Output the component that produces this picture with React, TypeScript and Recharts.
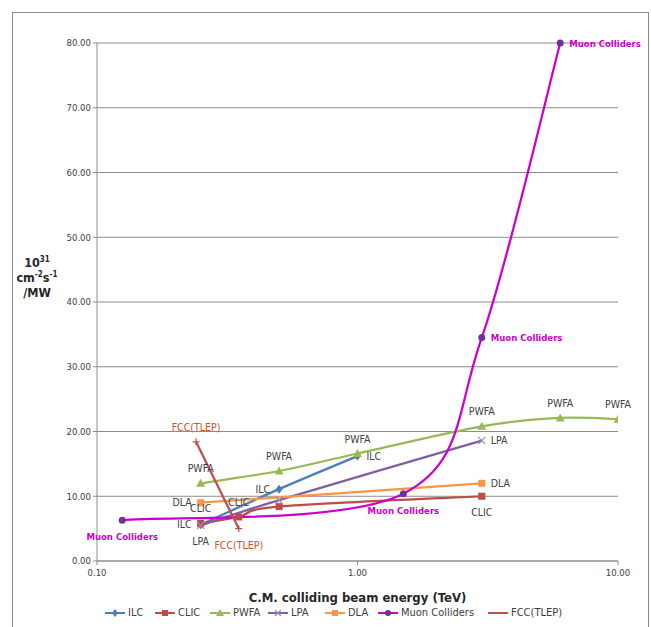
import React from 'react';
import { LineChart, Line, XAxis, YAxis, CartesianGrid } from 'recharts';

// energies in TeV, luminosity per wall-plug power in 1e31 cm^-2 s^-1 / MW
const ilcEnergy = [0.25, 0.5, 1.0];
const ilcLumi = [5.6, 11.1, 16.2];
const ilcLabels = ['ILC', 'ILC', 'ILC'];

const clicEnergy = [0.25, 0.35, 0.5, 3.0];
const clicLumi = [5.8, 6.8, 8.4, 10.0];
const clicLabels = ['CLIC', 'CLIC', '', 'CLIC'];

const pwfaEnergy = [0.25, 0.5, 1.0, 3.0, 6.0, 10.0];
const pwfaLumi = [12.0, 13.9, 16.6, 20.8, 22.1, 21.9];
const pwfaLabels = ['PWFA', 'PWFA', 'PWFA', 'PWFA', 'PWFA', 'PWFA'];

const lpaEnergy = [0.25, 0.5, 3.0];
const lpaLumi = [5.5, 9.4, 18.6];
const lpaLabels = ['LPA', '', 'LPA'];

const dlaEnergy = [0.25, 3.0];
const dlaLumi = [9.0, 12.0];
const dlaLabels = ['DLA', 'DLA'];

const muonEnergy = [0.125, 1.5, 3.0, 6.0];
const muonLumi = [6.3, 10.4, 34.5, 80.0];
const muonLabels = ['Muon Colliders', 'Muon Colliders', 'Muon Colliders', 'Muon Colliders'];

const fccEnergy = [0.24, 0.35];
const fccLumi = [18.4, 5.0];
const fccLabels = ['FCC(TLEP)', 'FCC(TLEP)'];

const xTicks = [0.1, 1, 10];
const yTicks = [0, 10, 20, 30, 40, 50, 60, 70, 80];

const toPoints = (xs: number[], ys: number[]) => xs.map((x, i) => ({ x, y: ys[i] }));

// Excel-style smoothed line (uniform Catmull-Rom as cubic Beziers)
const excelSmooth = (context: any) => {
  let pts: number[][] = [];
  return {
    areaStart() {},
    areaEnd() {},
    lineStart() { pts = []; },
    point(x: number, y: number) { pts.push([+x, +y]); },
    lineEnd() {
      if (!pts.length) return;
      context.moveTo(pts[0][0], pts[0][1]);
      for (let i = 0; i < pts.length - 1; i++) {
        const p0 = pts[i - 1] || pts[i];
        const p1 = pts[i];
        const p2 = pts[i + 1];
        const p3 = pts[i + 2] || pts[i + 1];
        context.bezierCurveTo(
          p1[0] + (p2[0] - p0[0]) / 6, p1[1] + (p2[1] - p0[1]) / 6,
          p2[0] - (p3[0] - p1[0]) / 6, p2[1] - (p3[1] - p1[1]) / 6,
          p2[0], p2[1],
        );
      }
    },
  };
};

type Place = 'top' | 'bottom' | 'left' | 'right';
type MarkerKind = 'diamond' | 'square' | 'triangle' | 'cross' | 'circle' | 'plus';

const series = [
  { name: 'ILC', data: toPoints(ilcEnergy, ilcLumi), labels: ilcLabels, places: ['left', 'left', 'right'] as Place[], color: '#4a7ebb', markerColor: '#4a7ebb', marker: 'diamond' as MarkerKind, labelColor: '#404040', legendW: 50 },
  { name: 'CLIC', data: toPoints(clicEnergy, clicLumi), labels: clicLabels, places: ['top', 'top', 'top', 'bottom'] as Place[], color: '#be4b48', markerColor: '#be4b48', marker: 'square' as MarkerKind, labelColor: '#404040', legendW: 55 },
  { name: 'PWFA', data: toPoints(pwfaEnergy, pwfaLumi), labels: pwfaLabels, places: ['top', 'top', 'top', 'top', 'top', 'top'] as Place[], color: '#98b954', markerColor: '#98b954', marker: 'triangle' as MarkerKind, labelColor: '#404040', legendW: 58 },
  { name: 'LPA', data: toPoints(lpaEnergy, lpaLumi), labels: lpaLabels, places: ['bottom', 'top', 'right'] as Place[], color: '#7d60a0', markerColor: '#9d88bb', marker: 'cross' as MarkerKind, labelColor: '#404040', legendW: 57 },
  { name: 'DLA', data: toPoints(dlaEnergy, dlaLumi), labels: dlaLabels, places: ['left', 'right'] as Place[], color: '#f79646', markerColor: '#f79646', marker: 'square' as MarkerKind, labelColor: '#404040', legendW: 53 },
  { name: 'Muon Colliders', data: toPoints(muonEnergy, muonLumi), labels: muonLabels, places: ['bottom', 'bottom', 'right', 'right'] as Place[], color: '#cc00cc', markerColor: '#7030a0', marker: 'circle' as MarkerKind, labelColor: '#cc00cc', legendW: 110 },
  { name: 'FCC(TLEP)', data: toPoints(fccEnergy, fccLumi), labels: fccLabels, places: ['top', 'bottom'] as Place[], color: '#c0504d', markerColor: '#c0504d', marker: 'plus' as MarkerKind, labelColor: '#d0502a', legendW: 80 },
];

const FONT = '"Liberation Sans Narrow", "DejaVu Sans Condensed", "Liberation Sans", sans-serif';

const Marker = ({ kind, cx, cy, color, size = 7 }: { kind: MarkerKind; cx: number; cy: number; color: string; size?: number }) => {
  const r = size / 2;
  switch (kind) {
    case 'diamond':
      return <path d={`M${cx},${cy - r - 1}L${cx + r},${cy}L${cx},${cy + r + 1}L${cx - r},${cy}Z`} fill={color} />;
    case 'square':
      return <rect x={cx - r} y={cy - r} width={size} height={size} fill={color} />;
    case 'triangle':
      return <path d={`M${cx},${cy - r - 1}L${cx + r + 1},${cy + r}L${cx - r - 1},${cy + r}Z`} fill={color} />;
    case 'cross':
      return <path d={`M${cx - r},${cy - r}L${cx + r},${cy + r}M${cx - r},${cy + r}L${cx + r},${cy - r}`} stroke={color} strokeWidth={1.2} />;
    case 'circle':
      return <circle cx={cx} cy={cy} r={r} fill={color} />;
    case 'plus':
      return <path d={`M${cx - r},${cy}L${cx + r},${cy}M${cx},${cy - r}L${cx},${cy + r}`} stroke={color} strokeWidth={1.2} />;
  }
  return null;
};

const makeLabel = (labels: string[], places: Place[], color: string, bold: boolean) => (props: any) => {
  const { x, y, index } = props;
  const text = labels[index];
  if (!text) return null;
  const place = places[index];
  let tx = x, ty = y + 3.5, anchor: 'start' | 'middle' | 'end' = 'middle';
  if (place === 'top') ty = y - 11;
  if (place === 'bottom') ty = y + 20;
  if (place === 'left') { tx = x - 9; anchor = 'end'; }
  if (place === 'right') { tx = x + 9; anchor = 'start'; }
  return (
    <text key={`l-${index}`} x={tx} y={ty} textAnchor={anchor} fill={color} fontSize={bold ? 9.5 : 10.5} fontWeight={bold ? 700 : 400} fontFamily={FONT}>
      {text}
    </text>
  );
};

const YTitle = (props: any) => {
  const { viewBox } = props;
  const cx = viewBox.x;
  const cy = viewBox.y + viewBox.height / 2;
  return (
    <g fontFamily={FONT} fontWeight={700} fill="#262626" textAnchor="middle">
      <text x={cx} y={cy - 35} fontSize={12.5}>10<tspan dy={-5} fontSize={8}>31</tspan></text>
      <text x={cx} y={cy - 20} fontSize={12.5}>cm<tspan dy={-5} fontSize={8}>-2</tspan><tspan dy={5}>s</tspan><tspan dy={-5} fontSize={8}>-1</tspan></text>
      <text x={cx} y={cy - 5} fontSize={12.5}>/MW</text>
    </g>
  );
};

const LegendIcon = ({ kind, color, markerColor }: { kind: MarkerKind | null; color: string; markerColor: string }) => (
  <svg width={22} height={10} style={{ marginRight: 2 }}>
    <line x1={1} y1={5} x2={21} y2={5} stroke={color} strokeWidth={2} />
    {kind && <Marker kind={kind} cx={11} cy={5} color={markerColor} size={6} />}
  </svg>
);

export default function App() {
  return (
    <div style={{ position: 'absolute', left: 0, top: 0, width: 651, height: 627, overflow: 'hidden', background: '#fff' }}>
      <div style={{ position: 'absolute', left: 12, top: 12, width: 637, height: 640, border: '1px solid #8c8c8c', boxSizing: 'border-box' }} />
      <div style={{ position: 'absolute', left: 0, top: 0 }}>
        <LineChart width={651} height={627} margin={{ top: 43, right: 33, bottom: 24, left: 37 }}>
          <CartesianGrid horizontal vertical={false} stroke="#8c8c8c" strokeWidth={1} />
          <XAxis
            type="number"
            dataKey="x"
            scale="log"
            domain={[0.1, 10]}
            ticks={xTicks}
            allowDataOverflow
            height={42}
            tickFormatter={(v: number) => v.toFixed(2)}
            tick={{ fontSize: 9.5, fill: '#404040', fontFamily: FONT, dy: 2 }}
            stroke="#8c8c8c"
            tickSize={4}
            label={{ value: 'C.M. colliding beam energy (TeV)', position: 'insideBottom', offset: 1, style: { fontSize: 13, fontWeight: 700, fill: '#262626', fontFamily: FONT } }}
          />
          <YAxis
            type="number"
            domain={[0, 80]}
            ticks={yTicks}
            width={60}
            tickFormatter={(v: number) => v.toFixed(2)}
            tick={{ fontSize: 9.5, fill: '#404040', fontFamily: FONT }}
            stroke="#8c8c8c"
            tickSize={4}
            label={<YTitle />}
          />
          {series.map((s) => (
            <Line
              key={s.name}
              name={s.name}
              data={s.data}
              dataKey="y"
              type={excelSmooth as any}
              stroke={s.color}
              strokeWidth={2.25}
              isAnimationActive={false}
              dot={(p: any) => <Marker key={`${s.name}-${p.index}`} kind={s.marker} cx={p.cx} cy={p.cy} color={s.markerColor} />}
              activeDot={false}
              label={makeLabel(s.labels, s.places, s.labelColor, s.name === 'Muon Colliders')}
            />
          ))}
        </LineChart>
      </div>
      <div style={{ position: 'absolute', left: 104, top: 606, display: 'flex', alignItems: 'center', fontFamily: FONT, fontSize: 11, color: '#404040', whiteSpace: 'nowrap' }}>
        {series.map((s) => (
          <div key={s.name} style={{ display: 'flex', alignItems: 'center', width: s.legendW }}>
            <LegendIcon kind={s.name === 'FCC(TLEP)' ? null : s.marker} color={s.color} markerColor={s.markerColor} />
            <span>{s.name}</span>
          </div>
        ))}
      </div>
    </div>
  );
}
